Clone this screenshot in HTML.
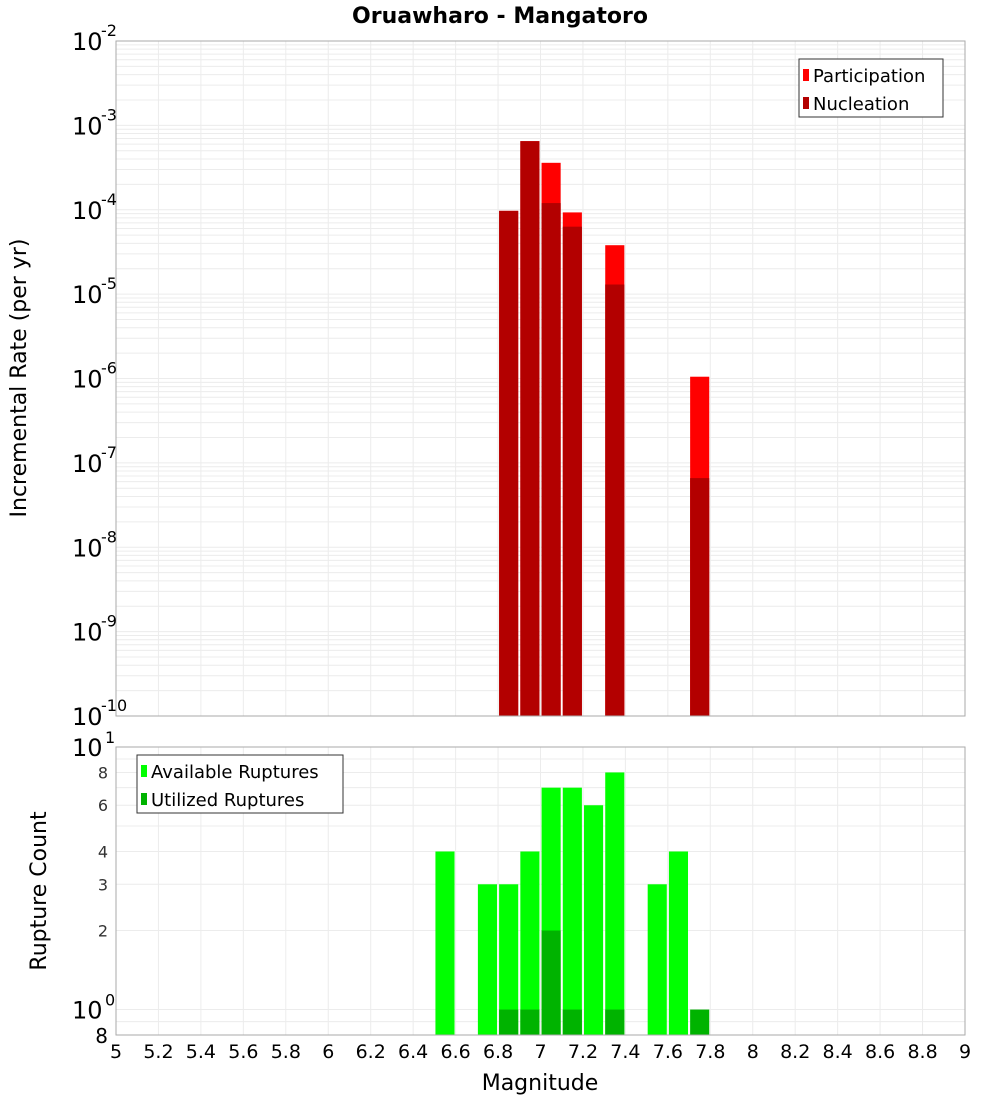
<!DOCTYPE html>
<html><head><meta charset="utf-8"><style>
body{margin:0;background:#fff;}
svg{display:block;font-family:"DejaVu Sans","Liberation Sans",sans-serif;}
</style></head><body>
<svg id="c" width="1000" height="1100" xmlns="http://www.w3.org/2000/svg"></svg>
<script>
const magCenters=[6.55,6.75,6.85,6.95,7.05,7.15,7.25,7.35,7.55,7.65,7.75];
const participation=[0,0,9.7e-5,6.5e-4,3.6e-4,9.3e-5,0,3.8e-5,0,0,1.05e-6];
const nucleation=[0,0,9.7e-5,6.5e-4,1.2e-4,6.3e-5,0,1.3e-5,0,0,6.6e-8];
const available=[4,3,3,4,7,7,6,8,3,4,0];
const utilized=[0,0,1,1,2,1,0,1,0,0,1];
const xTicks=[5,5.2,5.4,5.6,5.8,6,6.2,6.4,6.6,6.8,7,7.2,7.4,7.6,7.8,8,8.2,8.4,8.6,8.8,9];
const topExps=[-2,-3,-4,-5,-6,-7,-8,-9,-10];
const botTicks=[2,3,4,6,8];

const NS='http://www.w3.org/2000/svg';
const svg=document.getElementById('c');
function mk(t,a,p){const e=document.createElementNS(NS,t);for(const k in a)e.setAttribute(k,a[k]);(p||svg).appendChild(e);return e;}
const X0=116,X1=965;
const x=m=>X0+(m-5)/4*(X1-X0);
const T0=41,T1=716;
const yTop=v=>T0+(-2-Math.log10(v))/8*(T1-T0);
const B0=747,B1=1035;
const yBot=v=>B0+(1-Math.log10(v))/(1-Math.log10(0.8))*(B1-B0);

// top gridlines
for(let e=-10;e<-2;e++)for(let k=1;k<10;k++){const y=yTop(k*Math.pow(10,e));const g=mk('line',{x1:X0,x2:X1,y1:y,y2:y,stroke:'#ececec','stroke-width':1});

}
for(let i=0;i<xTicks.length;i++){const xx=x(xTicks[i]);mk('line',{x1:xx,x2:xx,y1:T0,y2:T1,stroke:'#ececec'});mk('line',{x1:xx,x2:xx,y1:B0,y2:B1,stroke:'#ececec'});}
// bottom gridlines
for(let k=1;k<=10;k++){const y=yBot(k);if(y<=B1)mk('line',{x1:X0,x2:X1,y1:y,y2:y,stroke:'#ececec'});}
mk('line',{x1:X0,x2:X1,y1:yBot(0.9),y2:yBot(0.9),stroke:'#ececec'});

const bw=0.09;
// top bars
for(let i=0;i<magCenters.length;i++){
 const l=x(magCenters[i]-bw/2),w=x(magCenters[i]+bw/2)-l;
 if(participation[i]>0){const r=mk('rect',{x:l,y:yTop(participation[i]),width:w,height:T1-yTop(participation[i]),fill:'#ff0000'});
 
 }
 if(nucleation[i]>0){const r=mk('rect',{x:l,y:yTop(nucleation[i]),width:w,height:T1-yTop(nucleation[i]),fill:'#b30000'});
 
 }
}
// bottom bars
for(let i=0;i<magCenters.length;i++){
 const l=x(magCenters[i]-bw/2),w=x(magCenters[i]+bw/2)-l;
 if(available[i]>0){const r=mk('rect',{x:l,y:yBot(available[i]),width:w,height:B1-yBot(available[i]),fill:'#00ff00'});
 
 }
 if(utilized[i]>0){const r=mk('rect',{x:l,y:yBot(utilized[i]),width:w,height:B1-yBot(utilized[i]),fill:'#00b300'});
 
 }
}
// frames
mk('rect',{x:X0,y:T0,width:X1-X0,height:T1-T0,fill:'none',stroke:'#aaa'});
mk('rect',{x:X0,y:B0,width:X1-X0,height:B1-B0,fill:'none',stroke:'#aaa'});

// top y labels
for(let i=0;i<topExps.length;i++){const y=yTop(Math.pow(10,topExps[i]));
 const t=mk('text',{x:72,y:y+9,'font-size':24,fill:'#000'});t.textContent='10';
 
 
 const s=mk('text',{x:101,y:y-5,'font-size':16,fill:'#000'});s.textContent=String(topExps[i]);}
// bottom y labels
[[10,'1'],[1,'0']].forEach(([v,e])=>{const y=yBot(v);const t=mk('text',{x:72,y:y+9,'font-size':24});t.textContent='10';const s=mk('text',{x:105,y:y-4,'font-size':16});s.textContent=e;});
for(let i=0;i<botTicks.length;i++){const t=mk('text',{x:108,y:yBot(botTicks[i])+6,'font-size':16,'text-anchor':'end',fill:'#333'});t.textContent=String(botTicks[i]);
 
 }
{const t=mk('text',{x:108,y:B1+8,'font-size':20,'text-anchor':'end'});t.textContent='8';}
// x labels
for(let i=0;i<xTicks.length;i++){const t=mk('text',{x:x(xTicks[i]),y:1058,'font-size':19,'text-anchor':'middle'});t.textContent=String(xTicks[i]);
 
 }

// titles
{const t=mk('text',{x:500,y:23,'font-size':22,'font-weight':'bold','text-anchor':'middle'});t.textContent='Oruawharo - Mangatoro';}
{const t=mk('text',{x:540,y:1090,'font-size':22,'text-anchor':'middle'});t.textContent='Magnitude';}
{const t=mk('text',{x:0,y:0,'font-size':22,'text-anchor':'middle',transform:'translate(26,378) rotate(-90)'});t.textContent='Incremental Rate (per yr)';}
{const t=mk('text',{x:0,y:0,'font-size':22,'text-anchor':'middle',transform:'translate(46,891) rotate(-90)'});t.textContent='Rupture Count';}

// legends
function legend(x0,y0,w,items,name){const g=mk('g',{});
 mk('rect',{x:x0,y:y0,width:w,height:58,fill:'#fff',stroke:'#333'},g);
 items.forEach((it,i)=>{mk('rect',{x:x0+4,y:y0+10+i*28,width:6,height:12,fill:it[1]},g);const t=mk('text',{x:x0+14,y:y0+23+i*28,'font-size':18},g);t.textContent=it[0];});}
legend(799,59,144,[['Participation','#ff0000'],['Nucleation','#b30000']],'top-legend');
legend(137,755,206,[['Available Ruptures','#00ff00'],['Utilized Ruptures','#00b300']],'bottom-legend');
</script>
</body></html>
